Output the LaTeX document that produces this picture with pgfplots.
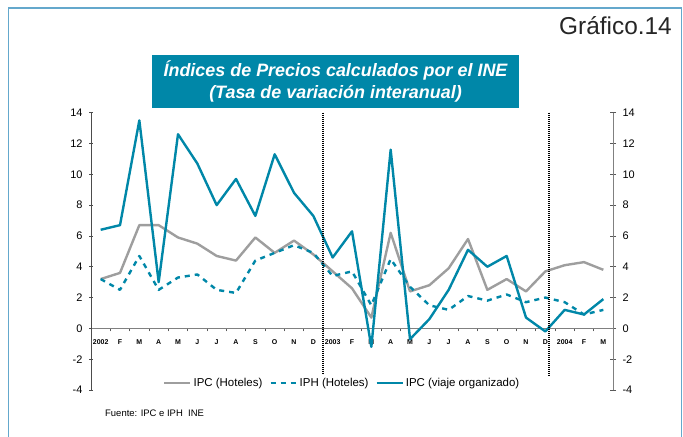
\documentclass[border=0pt]{standalone}
\usepackage{fontspec}
\setmainfont{Liberation Sans}
\usepackage{pgfplots}
\pgfplotsset{compat=1.18}

\definecolor{ineblue}{RGB}{0,135,168}
\definecolor{inegrey}{RGB}{158,158,158}
\definecolor{framebl}{RGB}{100,168,204}

\begin{document}
\begin{tikzpicture}[x=1bp,y=1bp]
\useasboundingbox (0,0) rectangle (683,437);
\draw[framebl, line width=1.5bp] (8.5,0) -- (8.5,429) -- (681.5,429) -- (681.5,0);

% right axis (labels only)
\begin{axis}[at={(91bp,47bp)}, anchor=south west, scale only axis,
  width=522bp, height=277.3bp,
  xmin=-0.5, xmax=26.5, ymin=-4, ymax=14,
  axis y line*=right, axis x line=none,
  ytick={-4,-2,...,14}, ytick align=center, major tick length=6bp,
  y axis line style={gray, line width=0.8bp},
  ytick style={gray!70!black, line width=0.6bp},
  /pgf/number format/assume math mode=true,
  yticklabel style={font=\fontsize{11}{13}\selectfont, xshift=3bp}]
\end{axis}

% main axis
\begin{axis}[at={(91bp,47bp)}, anchor=south west, scale only axis,
  width=522bp, height=277.3bp,
  xmin=-0.5, xmax=26.5, ymin=-4, ymax=14, clip=false,
  axis x line*=middle, axis y line*=left,
  hide obscured x ticks=false, hide obscured y ticks=false,
  x axis line style={gray, line width=1.4bp},
  y axis line style={gray!60!black, line width=0.8bp},
  ytick={-4,-2,...,14}, ytick align=center, major tick length=4bp,
  ytick style={gray!60!black, line width=0.6bp},
  xtick={0,...,26},
  xticklabels={2002,F,M,A,M,J,J,A,S,O,N,D,2003,F,M,A,M,J,J,A,S,O,N,D,2004,F,M},
  major x tick style={draw=none},
  minor xtick={0.5,1.5,...,25.5}, minor tick length=3bp, xtick align=outside,
  minor x tick style={gray!70!black, line width=0.6bp},
  /pgf/number format/assume math mode=true,
  yticklabel style={font=\fontsize{11}{13}\selectfont, xshift=-3bp},
  xticklabel style={font=\fontsize{7}{8}\selectfont\bfseries, yshift=-4bp},
  legend columns=3, legend cell align=left,
  legend style={draw=none, fill=white, at={(axis description cs:0.136,0.026)},
    anchor=west, font=\fontsize{11.5}{13}\selectfont, inner sep=1bp,
    /tikz/every even column/.append style={column sep=5bp}},
  legend image code/.code={\draw[#1] (0bp,0bp) -- (26bp,0bp);},
  every axis plot/.append style={line join=round}]

\addplot[inegrey, line width=2.4bp] coordinates {
(0,3.2)(1,3.6)(2,6.7)(3,6.7)(4,5.9)(5,5.5)(6,4.7)(7,4.4)(8,5.9)(9,4.9)(10,5.7)(11,4.8)
(12,3.7)(13,2.6)(14,0.7)(15,6.2)(16,2.4)(17,2.8)(18,3.9)(19,5.8)(20,2.5)(21,3.2)(22,2.4)(23,3.7)
(24,4.1)(25,4.3)(26,3.8)};
\addlegendentry{IPC (Hoteles)}

\addplot[ineblue, line width=2.4bp, dash pattern=on 5bp off 5bp] coordinates {
(0,3.2)(1,2.5)(2,4.7)(3,2.5)(4,3.3)(5,3.5)(6,2.5)(7,2.3)(8,4.4)(9,4.9)(10,5.4)(11,4.9)
(12,3.4)(13,3.7)(14,1.5)(15,4.5)(16,2.7)(17,1.5)(18,1.2)(19,2.1)(20,1.8)(21,2.2)(22,1.7)(23,2.0)
(24,1.7)(25,0.9)(26,1.2)};
\addlegendentry{IPH (Hoteles)}

\addplot[ineblue, line width=2.4bp] coordinates {
(0,6.4)(1,6.7)(2,13.5)(3,3.0)(4,12.6)(5,10.7)(6,8.0)(7,9.7)(8,7.3)(9,11.3)(10,8.8)(11,7.3)
(12,4.6)(13,6.3)(14,-1.2)(15,11.6)(16,-0.7)(17,0.6)(18,2.5)(19,5.1)(20,4.0)(21,4.7)(22,0.7)(23,-0.2)
(24,1.2)(25,0.9)(26,1.9)};
\addlegendentry{IPC (viaje organizado)}

\draw[black, line width=2.2bp, dash pattern=on 1bp off 1bp] (axis cs:11.5,14) -- (axis cs:11.5,-3.1);
\draw[black, line width=2.2bp, dash pattern=on 1bp off 1bp] (axis cs:23.2,14) -- (axis cs:23.2,-3.1);
\end{axis}

\node[fill=ineblue, text=white, font=\fontsize{18}{22}\selectfont\bfseries\itshape,
  align=center, minimum width=367bp, minimum height=53bp, inner sep=0pt]
  at (335.5,355.5) {Índices de Precios calculados por el INE\\(Tasa de variación interanual)};
\node[anchor=base east, inner sep=0pt, font=\fontsize{24.5}{28}\selectfont, text=black!85]
  at (672,402) {Gráfico.14};
\node[anchor=base west, inner sep=0pt, font=\fontsize{9.5}{11}\selectfont]
  at (105,20.5) {Fuente: IPC e IPH\ \ INE};
\end{tikzpicture}
\end{document}
